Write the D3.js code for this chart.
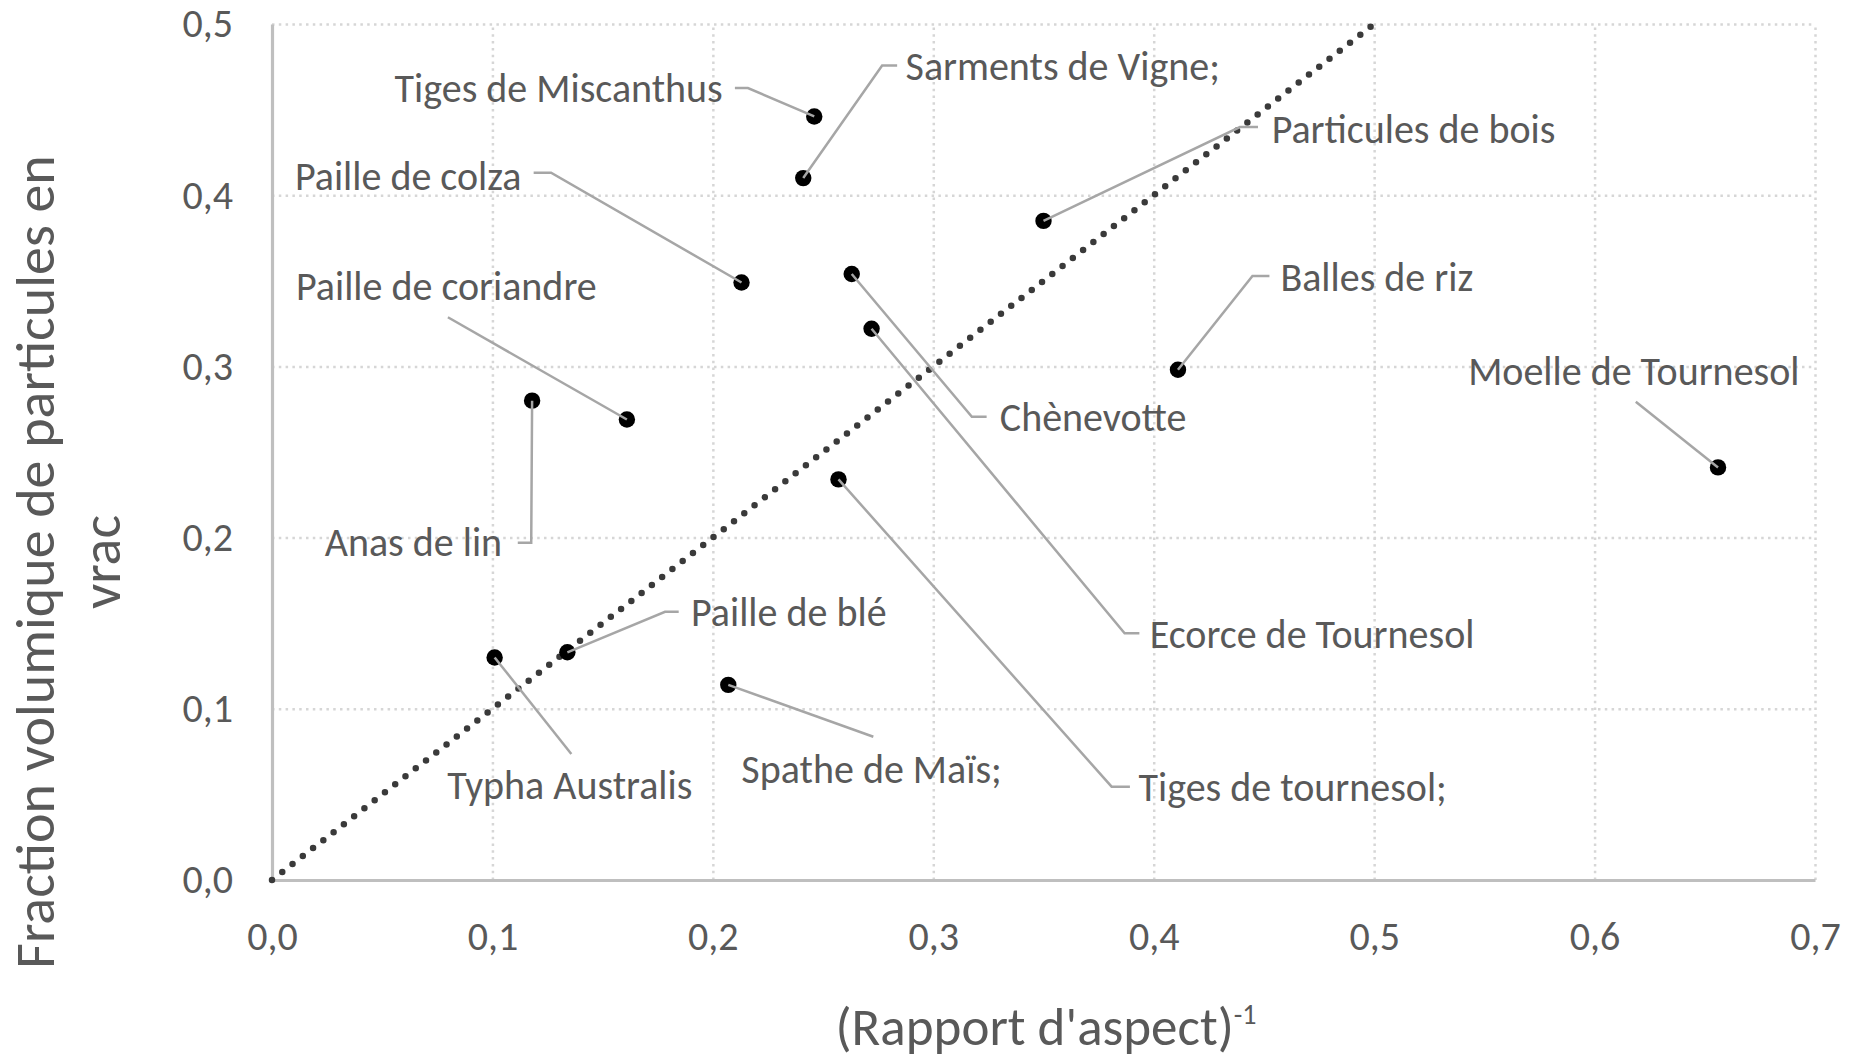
<!DOCTYPE html>
<html>
<head>
<meta charset="utf-8">
<script src="https://cdn.jsdelivr.net/npm/d3@7"></script>
<style>
  body { margin: 0; background: #ffffff; }
  text { font-family: Carlito, Calibri, "Liberation Sans Narrow", "DejaVu Sans Condensed", sans-serif; fill: #595959; }
</style>
</head>
<body>
<svg id="graphe" width="1852" height="1061"></svg>
<script>

// valeurs
var materiaux = ["Tiges de Miscanthus", "Sarments de Vigne;", "Particules de bois", "Paille de colza",
                 "Chènevotte", "Ecorce de Tournesol", "Balles de riz", "Moelle de Tournesol",
                 "Paille de coriandre", "Anas de lin", "Tiges de tournesol;", "Paille de blé",
                 "Typha Australis", "Spathe de Maïs;"];

var rapportInverse = [0.246, 0.241, 0.350, 0.213, 0.263, 0.272, 0.411, 0.656, 0.161, 0.118, 0.257, 0.134, 0.101, 0.207];

var fractionVrac = [0.446, 0.410, 0.385, 0.349, 0.354, 0.322, 0.298, 0.241, 0.269, 0.280, 0.234, 0.133, 0.130, 0.114];

var ticksX = [0, 0.1, 0.2, 0.3, 0.4, 0.5, 0.6, 0.7];
var ticksY = [0, 0.1, 0.2, 0.3, 0.4, 0.5];

var droiteRef = [[0, 0], [0.5, 0.5]];

// placement des etiquettes (en unites du graphe) : ancre du texte, coude et ergot du trait de rappel
var etiqX     = [0.2045, 0.2874, 0.4535, 0.1132, 0.3302, 0.3982, 0.4575, 0.6178, 0.0791, 0.1044, 0.3931, 0.1901, 0.1351, 0.2720];
var etiqY     = [0.4623, 0.4750, 0.4381, 0.4108, 0.2699, 0.1431, 0.3515, 0.2967, 0.3466, 0.1967, 0.0536, 0.1560, 0.0548, 0.0643];
var etiqAncre = ["end", "start", "start", "end", "start", "start", "start", "middle", "middle", "end", "start", "start", "middle", "middle"];
var coudeX    = [0.2159, 0.2768, 0.4391, 0.1266, 0.3175, 0.3868, 0.4448, 0.6187, 0.0798, 0.1176, 0.3809, 0.1783, 0.1358, 0.2728];
var coudeY    = [0.4626, 0.4757, 0.4398, 0.4131, 0.2706, 0.1441, 0.3528, 0.2794, 0.3287, 0.1970, 0.0545, 0.1567, 0.0736, 0.0837];
var ergotX    = [0.2100, 0.2836, 0.4473, 0.1187, 0.3242, 0.3935, 0.4525, null, null, 0.1115, 0.3892, 0.1845, null, null];


var svg = d3.select("#graphe");

var x = d3.scaleLinear().domain([0, 0.7]).range([272, 1815]);
var y = d3.scaleLinear().domain([0, 0.5]).range([880, 24]);

var virgule = function(d){ return d3.format(".1f")(d).replace(".", ","); };

// grille
svg.append("g")
      .attr("transform", "translate(0,880)")
      .call(d3.axisBottom(x).tickValues(ticksX.slice(1)).tickSize(-856).tickFormat(""))
      .call(function(g){ g.select(".domain").remove(); })
      .selectAll("line")
      .style("stroke", "#d6d6d6")
      .style("stroke-width", 2.5)
      .style("stroke-dasharray", "2.5 4.3");

svg.append("g")
      .attr("transform", "translate(272,0)")
      .call(d3.axisLeft(y).tickValues(ticksY.slice(1)).tickSize(-1543).tickFormat(""))
      .call(function(g){ g.select(".domain").remove(); })
      .selectAll("line")
      .style("stroke", "#d6d6d6")
      .style("stroke-width", 2.5)
      .style("stroke-dasharray", "2.5 4.3");

// axes
var axeX = svg.append("g")
      .attr("transform", "translate(0,880)")
      .call(d3.axisBottom(x).tickValues(ticksX).tickFormat(virgule).tickSize(0).tickSizeOuter(0).tickPadding(42));

var axeY = svg.append("g")
      .attr("transform", "translate(272,0)")
      .call(d3.axisLeft(y).tickValues(ticksY).tickFormat(virgule).tickSize(0).tickSizeOuter(0).tickPadding(39));

[axeX, axeY].forEach(function(a){
      a.select(".domain").style("stroke", "#bfbfbf").style("stroke-width", 3.2);
      a.selectAll("text").style("font-size", "40px").style("fill", "#595959").style("font-family", null);
});

// droite y = x
svg.append("line")
      .attr("x1", x(droiteRef[0][0]))
      .attr("y1", y(droiteRef[0][1]))
      .attr("x2", x(droiteRef[1][0]))
      .attr("y2", y(droiteRef[1][1]))
      .style("stroke", "#3a3a3a")
      .style("stroke-width", 6.5)
      .style("stroke-linecap", "round")
      .style("stroke-dasharray", "0 13");

// points
svg.selectAll(".point")
      .data(materiaux)
      .enter().append("circle")
      .attr("class", "point")
      .attr("cx", function(d, i){ return x(rapportInverse[i]); })
      .attr("cy", function(d, i){ return y(fractionVrac[i]); })
      .attr("r", 8.2)
      .style("fill", "#000000");

// traits de rappel
svg.selectAll(".rappel")
      .data(materiaux)
      .enter().append("polyline")
      .attr("class", "rappel")
      .attr("points", function(d, i){
            var pts = [[x(rapportInverse[i]), y(fractionVrac[i])], [x(coudeX[i]), y(coudeY[i])]];
            if(ergotX[i] !== null) pts.push([x(ergotX[i]), y(coudeY[i])]);
            return pts.map(function(p){ return p.join(","); }).join(" ");
      })
      .style("fill", "none")
      .style("stroke", "#a6a6a6")
      .style("stroke-width", 2.5);

// etiquettes
svg.selectAll(".etiquette")
      .data(materiaux)
      .enter().append("text")
      .attr("class", "etiquette")
      .attr("x", function(d, i){ return x(etiqX[i]); })
      .attr("y", function(d, i){ return y(etiqY[i]); })
      .attr("dy", "0.33em")
      .attr("text-anchor", function(d, i){ return etiqAncre[i]; })
      .style("font-size", "40px")
      .text(function(d){ return d; });

// titres des axes
var titreX = svg.append("text")
      .attr("x", 1046)
      .attr("y", 1045)
      .attr("text-anchor", "middle")
      .style("font-size", "53px");
titreX.append("tspan").text("(Rapport d'aspect)");
titreX.append("tspan").attr("dy", "-0.75em").style("font-size", "28px").text("-1");

var titreY = ["Fraction volumique de particules en", "vrac"];
svg.selectAll(".titreY")
      .data(titreY)
      .enter().append("text")
      .attr("class", "titreY")
      .attr("transform", function(d, i){ return "translate(" + (54 + i * 66) + ",562) rotate(-90)"; })
      .attr("text-anchor", "middle")
      .style("font-size", "56px")
      .text(function(d){ return d; });

</script>
</body>
</html>
